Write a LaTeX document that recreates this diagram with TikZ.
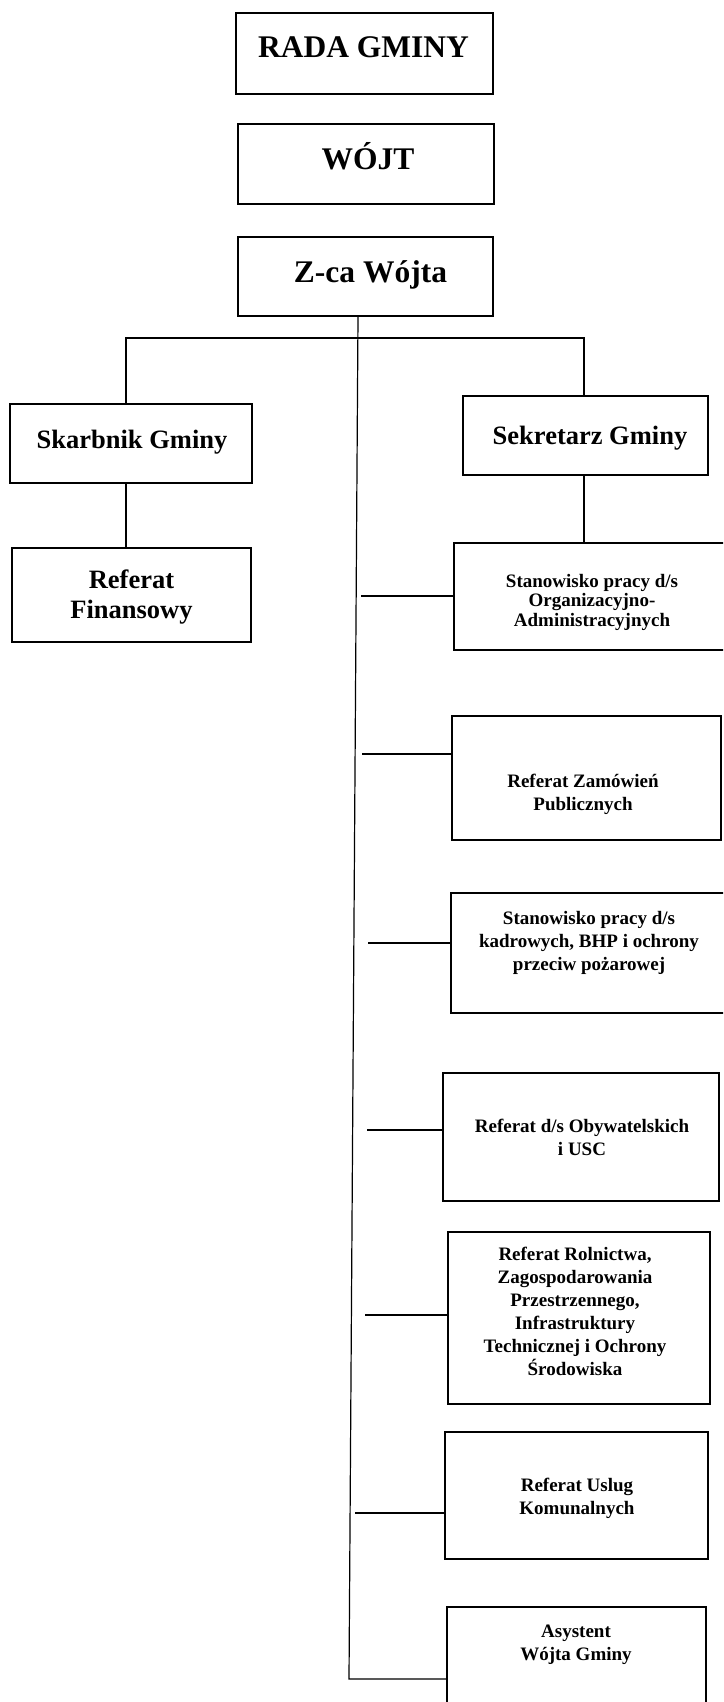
\documentclass[tikz,border=0pt]{standalone}
\usepackage{fontspec}
\setmainfont{Liberation Serif}
\newcommand{\mlines}[1]{\begin{tabular}[t]{@{}c@{}}#1\end{tabular}}
\begin{document}
\begin{tikzpicture}[x=1pt,y=-1pt,
  box/.style={draw, line width=1.2pt, rectangle, inner sep=0pt},
  conn/.style={line width=1.2pt},
  big/.style={inner sep=0pt, anchor=base, font=\bfseries\fontsize{31.5}{36}\selectfont},
  mid/.style={inner sep=0pt, anchor=base, font=\bfseries\fontsize{26.5}{30}\selectfont},
  small/.style={inner sep=0pt, anchor=base, font=\bfseries\fontsize{19}{23}\selectfont},
  tight/.style={inner sep=0pt, anchor=base, font=\bfseries\fontsize{19}{19.5}\selectfont}
]
\useasboundingbox (0,0) rectangle (723,1702);
\clip (0,0) rectangle (723,1702);

% boxes
\node[box, minimum width=257, minimum height=81] (rada) at (364.5,53.5) {};
\node[box, minimum width=256, minimum height=80] (wojt) at (366,164) {};
\node[box, minimum width=255, minimum height=79] (zca) at (365.5,276.5) {};
\node[box, minimum width=242, minimum height=79] (skarb) at (131,443.5) {};
\node[box, minimum width=245, minimum height=79] (sekr) at (585.5,435.5) {};
\node[box, minimum width=239, minimum height=94] (fin) at (131.5,595) {};
\node[box, minimum width=276, minimum height=107] (org) at (592,596.5) {};
\node[box, minimum width=269, minimum height=124] (zam) at (586.5,778) {};
\node[box, minimum width=279, minimum height=120] (kadr) at (590.5,953) {};
\node[box, minimum width=276, minimum height=128] (obyw) at (581,1137) {};
\node[box, minimum width=262, minimum height=172] (rol) at (579,1318) {};
\node[box, minimum width=263, minimum height=127] (uslug) at (576.5,1495.5) {};
\node[box, minimum width=259, minimum height=113] (asyst) at (576.5,1663.5) {};

% texts
\node[big] (radaT) at (363.5,58) {RADA GMINY};
\node[big] (wojtT) at (368,169) {WÓJT};
\node[big] (zcaT) at (370.5,282) {Z-ca Wójta};
\node[mid] (skarbT) at (132,448) {Skarbnik Gminy};
\node[mid] (sekrT) at (590,444) {Sekretarz Gminy};
\node[mid] (finT) at (131.5,588) {\mlines{Referat\\Finansowy}};
\node[tight] (orgT) at (592,587) {\mlines{Stanowisko pracy d/s\\Organizacyjno-\\Administracyjnych}};
\node[small] (zamT) at (583,787) {\mlines{Referat Zamówień\\Publicznych}};
\node[small] (kadrT) at (589,924) {\mlines{Stanowisko pracy d/s\\kadrowych, BHP i ochrony\\przeciw pożarowej}};
\node[small] (obywT) at (582,1132) {\mlines{Referat d/s Obywatelskich\\i USC}};
\node[small] (rolT) at (575,1260) {\mlines{Referat Rolnictwa,\\Zagospodarowania\\Przestrzennego,\\Infrastruktury\\Technicznej i Ochrony\\Środowiska}};
\node[small] (uslugT) at (577,1491) {\mlines{Referat Uslug\\Komunalnych}};
\node[small] (asystT) at (576,1637) {\mlines{Asystent\\Wójta Gminy}};

% connector coordinates
\coordinate (top) at (358,316);
\coordinate (spine) at (349,1679);
\coordinate (barL) at (126,338);
\coordinate (barR) at (584,338);
\coordinate (o1) at (361,596);
\coordinate (o2) at (362,754);
\coordinate (o3) at (368,943);
\coordinate (o4) at (367,1130);
\coordinate (o5) at (365,1315);
\coordinate (o6) at (355,1513);

% connectors
\draw[conn] (zca.south -| top) -- (spine) -- (spine -| asyst.west);
\draw[conn] (skarb.north -| barL) -- (barL) -- (barR) -- (sekr.north -| barR);
\draw[conn] (skarb.south -| barL) -- (fin.north -| barL);
\draw[conn] (sekr.south -| barR) -- (org.north -| barR);
\draw[conn] (o1) -- (o1 -| org.west);
\draw[conn] (o2) -- (o2 -| zam.west);
\draw[conn] (o3) -- (o3 -| kadr.west);
\draw[conn] (o4) -- (o4 -| obyw.west);
\draw[conn] (o5) -- (o5 -| rol.west);
\draw[conn] (o6) -- (o6 -| uslug.west);
\end{tikzpicture}
\end{document}
